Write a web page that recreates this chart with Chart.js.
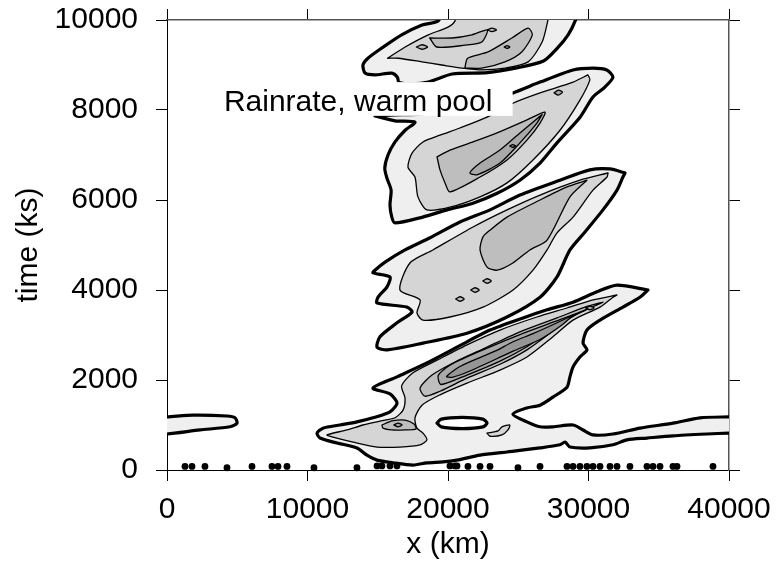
<!DOCTYPE html>
<html>
<head>
<meta charset="utf-8">
<script src="https://cdn.jsdelivr.net/npm/chart.js@4.4.1/dist/chart.umd.min.js"></script>
<style>
  html, body { margin: 0; padding: 0; background: #fff; }
  #wrap { width: 778px; height: 575px; }
</style>
</head>
<body>
<div id="wrap"><canvas id="myChart" width="778" height="575"></canvas></div>
<script>
Chart.defaults.font.family = '"Liberation Sans", Arial, sans-serif';
Chart.defaults.font.size = 30;
Chart.defaults.color = "#000";

// axes
const xTicks = [0, 10000, 20000, 30000, 40000];
const yTicks = [0, 2000, 4000, 6000, 8000, 10000];
const xTitle = "x (km)";
const yTitle = "time (ks)";
const boxText = "Rainrate, warm pool";

// contours, [x km, time ks]
const leftPiece = [[-600,1180],[0,1180],[1850,1220],[4270,1200],[4840,1160],[4980,1040],[4480,960],[2350,890],[0,800],[-600,800],[-600,1180]];

const bandAOuter = [[19800,10300],[19300,9980],[18150,9890],[16700,9670],[15300,9380],[14300,9150],[13950,9000],[14100,8820],[14800,8780],[16000,8820],[16400,8730],[16500,8620],[17450,8580],[18600,8620],[20300,8800],[22800,8830],[24800,8930],[26800,9090],[27800,9380],[28550,9670],[29050,9980],[29300,10300],[19800,10300]];
const bandALevel2 = [[15700,9150],[16950,9400],[18600,9670],[20000,9840],[20500,9980],[20700,10300],[27300,10300],[27100,9980],[26700,9510],[25700,9070],[24050,8930],[22400,8890],[21000,8930],[19550,9000],[18150,9070],[16450,9150],[15700,9150]];
const bandALevel3a = [[18700,9600],[19200,9400],[21200,9440],[22400,9510],[22800,9780],[21700,9670],[20300,9600],[18700,9600]];
const bandALevel3b = [[21200,8930],[21400,9150],[22850,9290],[24550,9600],[25700,9820],[26000,9670],[25250,9290],[24050,9070],[22400,8930],[21200,8930]];
const loopA1 = [[17750,9400],[18150,9450],[18550,9400],[18150,9350],[17750,9400]];
const loopA2 = [[22800,9780],[23130,9820],[23450,9780],[23130,9740],[22800,9780]];
const dotA = [[24000,9400],[24200,9430],[24400,9400],[24200,9370],[24000,9400]];

const bandBOuter = [[14800,7870],[16230,7760],[17650,7730],[16950,7550],[16230,7290],[15730,7000],[15500,6710],[15650,6490],[15950,6220],[15870,5890],[16000,5620],[16230,5490],[18200,5620],[19930,5780],[21780,5930],[23500,6150],[25120,6440],[26550,6820],[27760,7270],[29400,7840],[30320,8290],[31170,8510],[31740,8730],[31300,8890],[30320,8930],[28900,8890],[26550,8620],[24620,8380],[22280,8150],[20140,8000],[18000,7910],[16230,7890],[14800,7870]];
const bandBLevel2 = [[29960,8780],[28900,8620],[26550,8380],[24620,8150],[22780,7840],[20850,7600],[19430,7440],[18220,7290],[17440,7040],[17150,6730],[17650,6510],[17860,6070],[18500,5780],[20140,5840],[22280,6070],[24200,6380],[26050,6890],[27970,7550],[29390,8220],[30100,8670],[29960,8780]];
const bandBLevel3 = [[19220,6960],[20140,7110],[21780,7290],[23490,7490],[25620,7780],[26900,7950],[26550,7710],[25620,7330],[24200,6890],[22280,6510],[20140,6180],[19790,6380],[19430,6670],[19220,6960]];
const bandBLevel4 = [[26700,7900],[26330,7710],[25120,7270],[23700,6820],[22060,6560],[21560,6600],[22280,6820],[23700,7110],[25120,7490],[26400,7820],[26700,7900]];
const loopB1 = [[27550,8380],[27850,8440],[28150,8400],[27850,8330],[27550,8380]];
const dotB = [[24400,7200],[24600,7230],[24800,7200],[24600,7170],[24400,7200]];

const bandCOuter = [[32600,6600],[31530,6690],[30100,6670],[27970,6440],[25120,6110],[22990,5780],[20850,5510],[18720,5160],[16940,4890],[15520,4620],[14800,4440],[14660,4380],[15870,4290],[15660,4070],[15020,3840],[14950,3710],[17080,3620],[17440,3510],[16370,3270],[15160,2960],[14950,2730],[15660,2670],[18220,2820],[21350,3040],[24200,3400],[26550,3840],[27760,4290],[28680,4890],[29750,5290],[31030,5780],[32030,6220],[32450,6510],[32600,6600]];
const bandCLevel2 = [[31390,6600],[29390,6440],[26550,6110],[24200,5780],[21780,5400],[18930,4890],[17290,4600],[16580,4000],[18010,3780],[17790,3490],[18220,3330],[20140,3400],[22490,3620],[24630,4000],[26050,4440],[27050,4890],[27760,5270],[28900,5620],[30320,6220],[31320,6510],[31390,6600]];
const bandCLevel3 = [[29890,6440],[28680,6070],[27050,5110],[25830,4890],[24620,4600],[23490,4440],[22780,4510],[22280,4890],[22490,5180],[22990,5330],[24200,5620],[26550,6000],[28470,6290],[29890,6440]];
const loopC1 = [[20550,3800],[20850,3850],[21150,3800],[20850,3750],[20550,3800]];
const loopC2 = [[21620,4000],[21920,4050],[22220,4000],[21920,3950],[21620,4000]];
const loopC3 = [[22480,4200],[22780,4250],[23080,4200],[22780,4150],[22480,4200]];

const bandDOuter = [[34230,4000],[32030,4110],[30600,3960],[28900,3730],[27050,3560],[25340,3380],[22990,3110],[20640,2730],[18500,2380],[16370,2070],[14660,1820],[15870,1690],[16370,1490],[15870,1290],[14660,1160],[13520,1070],[12310,1000],[11100,930],[10680,820],[10890,710],[12100,600],[13520,490],[14230,330],[14950,220],[16080,160],[17510,110],[18500,160],[19640,180],[20640,220],[22280,330],[24200,400],[26550,490],[27970,560],[28330,620],[28680,510],[30100,490],[31740,560],[32740,670],[34160,710],[36010,760],[38430,800],[40000,820],[40600,820],[40600,1180],[40000,1180],[37930,1160],[36010,1040],[33660,930],[31740,800],[30320,780],[29610,890],[28900,1000],[27470,960],[26550,960],[25620,1070],[24620,1240],[25620,1380],[26550,1440],[27470,1620],[28470,1840],[28680,2070],[28900,2290],[29390,2510],[29890,2670],[29610,2820],[29890,3110],[30820,3330],[32450,3620],[33660,3840],[34230,4000]];
const bandDLevel2 = [[32030,3890],[30320,3780],[28470,3600],[26330,3400],[23700,3110],[21350,2780],[19220,2440],[17510,2160],[16700,1870],[16940,1600],[16800,1330],[16230,1160],[15520,1110],[14950,1070],[13950,1000],[12810,890],[11390,780],[11810,730],[13240,620],[14950,510],[16580,510],[18010,560],[18500,670],[18220,820],[17790,930],[17650,1160],[18150,1440],[19430,1670],[21350,1930],[23700,2220],[25620,2510],[27470,2960],[28900,3330],[30820,3620],[31740,3840],[32030,3890]];
const bandDLevel3 = [[31030,3730],[29750,3620],[27760,3380],[25120,3070],[22630,2710],[20500,2400],[18860,2110],[18010,1820],[18360,1640],[19430,1750],[21350,2040],[23700,2350],[25620,2670],[27260,3040],[28680,3380],[30100,3600],[31030,3730]];
const bandDLevel4 = [[29800,3560],[27970,3340],[25120,3010],[22280,2640],[20140,2330],[19300,2100],[19500,1900],[21350,2110],[23700,2420],[25620,2740],[27260,3090],[28900,3420],[29800,3560]];
const bandDLevel5 = [[28900,3440],[27610,3250],[26050,3030],[24630,2850],[23340,2640],[20850,2300],[19900,2080],[20300,2060],[21560,2200],[24630,2640],[26550,2900],[28110,3220],[28900,3440]];
const loopD1 = [[29800,3600],[30100,3640],[30400,3600],[30100,3560],[29800,3600]];
const ringD = [[15300,1000],[16010,1090],[16940,1110],[17580,1020],[17720,910],[16940,890],[16010,890],[15370,930],[15300,1000]];
const ringDCore = [[16150,1000],[16440,1040],[16730,1000],[16440,960],[16150,1000]];
const holeD = [[19220,1044],[19520,1130],[21000,1170],[22480,1130],[22780,1044],[22480,958],[21000,920],[19520,958],[19220,1044]];
const smallD = [[22770,820],[23560,870],[23840,960],[24400,1000],[24270,890],[23840,780],[23000,750],[22770,820]];

// little cells sitting on t = 0
const blobX = [1280,1780,2700,4270,6050,7470,7900,8540,10460,13520,14950,15300,15870,16370,20140,20500,20640,21420,22280,22990,24980,26550,28470,28900,29390,29890,30320,30820,31530,32030,32950,34160,34590,35090,36010,36300,38860];
const blobT = [80,80,80,50,80,80,80,80,50,50,90,90,90,90,90,90,90,80,80,80,50,80,80,80,80,80,80,80,80,80,80,80,80,80,80,80,80];

const THICK = 3.2, THIN = 1.3;
const shade = ["#efefef", "#d5d5d5", "#bebebe", "#a9a9a9", "#969696"];

function contour(pts, fill, width) {
	return {
		data: pts.map(([x, y]) => ({ x, y })),
		backgroundColor: fill,
		borderColor: "#000",
		borderWidth: width,
		borderJoinStyle: "round",
		borderCapStyle: "round",
		fill: "shape",
		pointRadius: 0,
		tension: 0.25,
		clip: 0,
	};
}

const datasets = [
	contour(leftPiece, shade[0], THICK),
	contour(bandAOuter, shade[0], THICK),
	contour(bandALevel2, shade[1], THIN),
	contour(bandALevel3a, shade[2], THIN),
	contour(bandALevel3b, shade[2], THIN),
	contour(loopA1, shade[2], THIN),
	contour(loopA2, shade[2], THIN),
	contour(dotA, shade[3], THIN),
	contour(bandBOuter, shade[0], THICK),
	contour(bandBLevel2, shade[1], THIN),
	contour(bandBLevel3, shade[2], THIN),
	contour(bandBLevel4, shade[3], THIN),
	contour(loopB1, shade[3], THIN),
	contour(dotB, shade[4], THIN),
	contour(bandCOuter, shade[0], THICK),
	contour(bandCLevel2, shade[1], THIN),
	contour(bandCLevel3, shade[2], THIN),
	contour(loopC1, shade[2], THIN),
	contour(loopC2, shade[2], THIN),
	contour(loopC3, shade[2], THIN),
	contour(bandDOuter, shade[0], THICK),
	contour(bandDLevel2, shade[1], THIN),
	contour(bandDLevel3, shade[2], THIN),
	contour(bandDLevel4, shade[3], THIN),
	contour(bandDLevel5, shade[4], THIN),
	contour(loopD1, shade[3], THIN),
	contour(ringD, shade[2], THIN),
	contour(ringDCore, shade[3], THIN),
	contour(holeD, "#fff", THICK),
	contour(smallD, shade[1], THIN),
	{
		data: blobX.map((x, i) => ({ x, y: blobT[i] })),
		showLine: false,
		pointRadius: 3.4,
		pointStyle: "circle",
		backgroundColor: "#000",
		borderColor: "#000",
		borderWidth: 0,
		fill: false,
		clip: false,
	},
];
// first pushed is drawn first (at the back)
datasets.forEach((d, i) => { d.order = datasets.length - i; });

const labelBox = {
	id: "labelBox",
	afterDatasetsDraw(chart) {
		const { ctx, scales: { x, y } } = chart;
		const left = x.getPixelForValue(3750), right = x.getPixelForValue(24600);
		const top = y.getPixelForValue(8620), bottom = y.getPixelForValue(7870);
		ctx.save();
		ctx.fillStyle = "#fff";
		ctx.fillRect(left, top, right - left, bottom - top);
		ctx.fillStyle = "#000";
		ctx.font = '30px "Liberation Sans", Arial, sans-serif';
		ctx.textBaseline = "alphabetic";
		ctx.fillText(boxText, x.getPixelForValue(4050), y.getPixelForValue(7980));
		ctx.restore();
	},
};

const frameGrid = { drawOnChartArea: false, drawTicks: true, tickLength: 11, color: "#000", lineWidth: 1 };

// fixed box sizes so the plot area sits where the original one does
const fitX = (h) => (s) => { s.height = h; s.paddingLeft = 0; s.paddingRight = 0; };
const fitY = (w) => (s) => { s.width = w; s.paddingTop = 0; s.paddingBottom = 0; };

const config = {
	type: "line",
	data: { datasets },
	options: {
		responsive: false,
		animation: false,
		events: [],
		layout: { padding: 0 },
		plugins: {
			legend: { display: false },
			tooltip: { enabled: false },
		},
		scales: {
			x: {
				type: "linear",
				position: "bottom",
				min: 0,
				max: 40000,
				afterBuildTicks: (s) => { s.ticks = xTicks.map((v) => ({ value: v })); },
				ticks: { padding: 11, maxRotation: 0, autoSkip: false, callback: (v) => String(v) },
				grid: frameGrid,
				border: { color: "#000", width: 1 },
				title: { display: true, text: xTitle, padding: { top: 0, bottom: 12 } },
				afterFit: fitX(105),
			},
			x2: {
				type: "linear",
				position: "top",
				min: 0,
				max: 40000,
				afterBuildTicks: (s) => { s.ticks = xTicks.map((v) => ({ value: v })); },
				ticks: { display: false },
				grid: frameGrid,
				border: { color: "#555", width: 1.5 },
				afterFit: fitX(20),
			},
			y: {
				type: "linear",
				position: "left",
				min: 0,
				max: 10000,
				afterBuildTicks: (s) => { s.ticks = yTicks.map((v) => ({ value: v })); },
				ticks: { padding: 18, callback: (v) => String(v) },
				grid: frameGrid,
				border: { color: "#000", width: 1 },
				title: { display: true, text: yTitle, padding: { top: 11, bottom: 0 } },
				afterFit: fitY(167),
			},
			y2: {
				type: "linear",
				position: "right",
				min: 0,
				max: 10000,
				afterBuildTicks: (s) => { s.ticks = yTicks.map((v) => ({ value: v })); },
				ticks: { display: false },
				grid: frameGrid,
				border: { color: "#555", width: 1.5 },
				afterFit: fitY(49),
			},
		},
	},
	plugins: [labelBox],
};

new Chart(document.getElementById("myChart").getContext("2d"), config);
</script>
</body>
</html>
